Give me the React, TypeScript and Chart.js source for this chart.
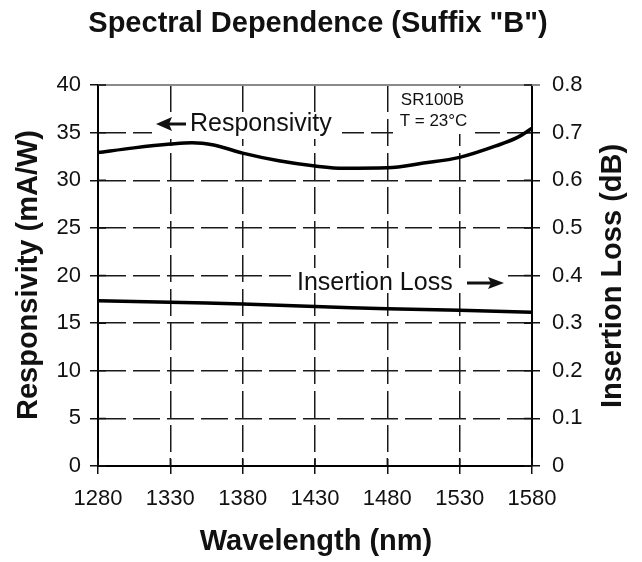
import React, { useEffect, useRef } from 'react';
import { Chart, registerables } from 'chart.js';

Chart.register(...registerables);

const wavelengthTicks = [1280, 1330, 1380, 1430, 1480, 1530, 1580];
const leftTickValues = [0, 5, 10, 15, 20, 25, 30, 35, 40];
const leftTickLabels = ['0', '5', '10', '15', '20', '25', '30', '35', '40'];
const rightTickValues = [0, 0.1, 0.2, 0.3, 0.4, 0.5, 0.6, 0.7, 0.8];
const rightTickLabels = ['0', '0.1', '0.2', '0.3', '0.4', '0.5', '0.6', '0.7', '0.8'];

const respWavelengths = [1280, 1305, 1330, 1345, 1360, 1380, 1405, 1430, 1450, 1480, 1505, 1530, 1555, 1570, 1580];
const responsivity = [32.9, 33.4, 33.8, 33.95, 33.7, 32.85, 32.05, 31.5, 31.25, 31.3, 31.8, 32.4, 33.6, 34.5, 35.45];

const lossWavelengths = [1280, 1330, 1380, 1430, 1480, 1530, 1580];
const insertionLoss = [0.347, 0.344, 0.340, 0.335, 0.330, 0.327, 0.323];

const FONT = '"Liberation Sans", Arial, Helvetica, sans-serif';

export default function App() {
  const ref = useRef<HTMLCanvasElement>(null);

  useEffect(() => {
    const canvas = ref.current;
    if (!canvas) return;
    const ctx = canvas.getContext('2d');
    if (!ctx) return;

    const decor = {
      id: 'decor',
      beforeDatasetsDraw(chart: any) {
        const c = chart.ctx;
        const { left, right, top, bottom } = chart.chartArea;
        const xs = chart.scales.x;
        const ys = chart.scales.y;
        c.save();
        c.strokeStyle = '#8a8a8a';
        c.lineWidth = 2;
        c.beginPath();
        c.moveTo(left, top);
        c.lineTo(right + 8, top);
        c.stroke();
        c.strokeStyle = '#111';
        c.lineWidth = 1.5;
        c.beginPath();
        wavelengthTicks.forEach((v) => {
          const x = xs.getPixelForValue(v);
          c.moveTo(x, bottom - 8);
          c.lineTo(x, bottom);
        });
        leftTickValues.forEach((v) => {
          const y = ys.getPixelForValue(v);
          c.moveTo(left, y);
          c.lineTo(left + 8, y);
          c.moveTo(right - 8, y);
          c.lineTo(right, y);
        });
        c.stroke();

        c.fillStyle = '#ffffff';
        c.fillRect(152, 113, 190, 26);
        c.fillRect(291, 268, 217, 25);
        c.fillRect(393, 88, 82, 46);

        c.fillStyle = '#111';
        c.textBaseline = 'middle';
        c.textAlign = 'left';
        c.font = `25px ${FONT}`;
        c.fillText('Responsivity', 190, 124.5);
        c.fillText('Insertion Loss', 297, 283);
        c.font = `17px ${FONT}`;
        c.textAlign = 'center';
        c.fillText('SR100B', 432.5, 100);
        c.fillText('T = 23°C', 433.5, 121.5);

        c.lineWidth = 3;
        c.strokeStyle = '#111';
        c.beginPath();
        c.moveTo(168, 124);
        c.lineTo(186, 124);
        c.stroke();
        c.beginPath();
        c.moveTo(156, 124);
        c.lineTo(172, 117);
        c.lineTo(169, 124);
        c.lineTo(172, 131);
        c.closePath();
        c.fill();

        c.beginPath();
        c.moveTo(467, 283);
        c.lineTo(492, 283);
        c.stroke();
        c.beginPath();
        c.moveTo(504, 283);
        c.lineTo(488, 277);
        c.lineTo(491, 283);
        c.lineTo(488, 289);
        c.closePath();
        c.fill();
        c.restore();
      },
      afterDraw(chart: any) {
        const c = chart.ctx;
        c.save();
        c.fillStyle = '#111';
        c.textAlign = 'center';
        c.textBaseline = 'middle';
        c.font = `bold 29px ${FONT}`;
        c.fillText('Spectral Dependence (Suffix "B")', 318, 24);
        c.fillText('Wavelength (nm)', 316, 542);
        c.save();
        c.translate(29, 275);
        c.rotate(-Math.PI / 2);
        c.fillText('Responsivity (mA/W)', 0, 0);
        c.restore();
        c.save();
        c.translate(613, 276);
        c.rotate(-Math.PI / 2);
        c.fillText('Insertion Loss (dB)', 0, 0);
        c.restore();
        c.restore();
      },
    };

    const gridColor = '#1a1a1a';
    const tickFont = { family: FONT, size: 22 };

    const chart = new Chart(ctx, {
      type: 'line',
      data: {
        datasets: [
          {
            label: 'Responsivity',
            data: respWavelengths.map((x, i) => ({ x, y: responsivity[i] })),
            yAxisID: 'y',
            borderColor: '#000',
            borderWidth: 3.5,
            pointRadius: 0,
            cubicInterpolationMode: 'monotone',
            fill: false,
          },
          {
            label: 'Insertion Loss',
            data: lossWavelengths.map((x, i) => ({ x, y: insertionLoss[i] })),
            yAxisID: 'y1',
            borderColor: '#000',
            borderWidth: 3.5,
            pointRadius: 0,
            tension: 0.3,
            fill: false,
          },
        ],
      },
      options: {
        responsive: false,
        animation: false,
        layout: { padding: { top: 85, left: 0, right: 0, bottom: 0 } },
        plugins: {
          legend: { display: false },
          tooltip: { enabled: false },
          title: { display: false },
        },
        scales: {
          x: {
            type: 'linear',
            position: 'bottom',
            min: 1280,
            max: 1580,
            afterBuildTicks: (s: any) => {
              s.ticks = wavelengthTicks.map((v) => ({ value: v }));
            },
            afterFit: (s: any) => {
              s.height = 96;
            },
            ticks: {
              color: '#111',
              font: tickFont,
              padding: 12,
              maxRotation: 0,
              autoSkip: false,
              callback: (v: any) => String(v),
            },
            grid: {
              color: gridColor,
              lineWidth: 1.5,
              tickLength: 8,
              tickColor: '#111',
              borderDash: [27, 7],
            } as any,
            border: { display: true, color: '#000', width: 2, dash: [27, 7] },
          },
          y: {
            type: 'linear',
            position: 'left',
            min: 0,
            max: 40,
            afterBuildTicks: (s: any) => {
              s.ticks = leftTickValues.map((v) => ({ value: v }));
            },
            afterFit: (s: any) => {
              s.width = 98;
            },
            ticks: {
              color: '#111',
              font: tickFont,
              padding: 9,
              autoSkip: false,
              callback: (_v: any, i: number) => leftTickLabels[i],
            },
            grid: {
              color: gridColor,
              lineWidth: 1.5,
              tickLength: 8,
              tickColor: '#111',
              borderDash: [27, 7],
            } as any,
            border: { display: true, color: '#000', width: 2, dash: [27, 7] },
          },
          y1: {
            type: 'linear',
            position: 'right',
            min: 0,
            max: 0.8,
            afterBuildTicks: (s: any) => {
              s.ticks = rightTickValues.map((v) => ({ value: v }));
            },
            afterFit: (s: any) => {
              s.width = 110;
            },
            ticks: {
              color: '#111',
              font: tickFont,
              padding: 12,
              autoSkip: false,
              callback: (_v: any, i: number) => rightTickLabels[i],
            },
            grid: {
              drawOnChartArea: false,
              color: gridColor,
              lineWidth: 1.5,
              tickLength: 8,
              tickColor: '#111',
            },
            border: { display: true, color: '#000', width: 2 },
          },
        },
      } as any,
      plugins: [decor],
    });

    return () => chart.destroy();
  }, []);

  return (
    <div style={{ position: 'fixed', left: 0, top: 0, width: 642, height: 562, background: '#fff' }}>
      <canvas ref={ref} width={642} height={562} style={{ display: 'block', width: 642, height: 562 }} />
    </div>
  );
}
